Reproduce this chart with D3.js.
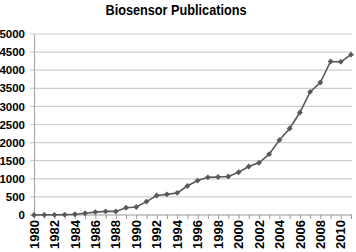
<!DOCTYPE html>
<html>
<head>
<meta charset="utf-8">
<script src="https://cdn.jsdelivr.net/npm/d3@7"></script>
<style>
  body { margin: 0; background: #fff; }
  text { font-family: "Liberation Sans Narrow", "Arial Narrow", "Liberation Sans", Arial, sans-serif; font-weight: bold; fill: #000; }
</style>
</head>
<body>
<svg id="chart"></svg>
<script>
const years = d3.range(1980, 2012);
const pubs = [0, 5, 5, 10, 20, 50, 80, 100, 100, 200, 220, 370, 540, 570, 610, 800,
  950, 1040, 1050, 1065, 1180, 1340, 1440, 1680, 2070, 2390, 2830, 3400, 3660, 4240, 4230, 4430];
const yTicks = [0, 500, 1000, 1500, 2000, 2500, 3000, 3500, 4000, 4500, 5000];
const xLabels = years.filter(y => y % 2 === 0);
const title = "Biosensor Publications";

const width = 356, height = 252;
const margin = { top: 34, right: 5, bottom: 37, left: 34 };

const svg = d3.select('#chart')
    .attr('width', width)
    .attr('height', height);

const x = d3.scalePoint()
    .domain(years)
    .range([margin.left, 351]);

const y = d3.scaleLinear()
    .domain([0, 5000])
    .range([height - margin.bottom, margin.top]);

svg.append('text')
    .attr('x', 176)
    .attr('y', 15)
    .attr('text-anchor', 'middle')
    .attr('textLength', 141)
    .attr('lengthAdjust', 'spacingAndGlyphs')
    .style('font-size', '14px')
    .text(title);

// gridlines
svg.append('g')
  .selectAll('line')
  .data(yTicks)
  .join('line')
    .attr('x1', margin.left - 4)
    .attr('x2', 352)
    .attr('y1', d => y(d))
    .attr('y2', d => y(d))
    .attr('stroke', d => d === 0 ? '#9a9a9a' : '#cfcfcf')
    .attr('stroke-width', 1.2);

// y axis
const yAxis = svg.append('g')
    .attr('transform', `translate(${margin.left}, 0)`)
    .call(d3.axisLeft(y).tickValues(yTicks).tickFormat(d3.format('d')).tickSize(0).tickPadding(9));
yAxis.select('.domain').attr('stroke', '#a8a8a8').attr('stroke-width', 1.2);
yAxis.selectAll('text').style('font-size', '11.5px').attr('font-family', null);

// x axis
const xAxis = svg.append('g')
    .attr('transform', `translate(0, ${y(0)})`)
    .call(d3.axisBottom(x).tickSize(4).tickFormat(''));
xAxis.select('.domain').remove();
xAxis.selectAll('.tick line').attr('stroke', '#9a9a9a');

svg.append('g')
  .selectAll('text')
  .data(xLabels)
  .join('text')
    .attr('transform', d => `translate(${x(d)}, ${y(0) + 5}) rotate(-90)`)
    .attr('text-anchor', 'end')
    .attr('dy', '0.36em')
    .style('font-size', '13px')
    .text(d => d);

// series
const line = d3.line()
    .x((d, i) => x(years[i]))
    .y(d => y(d));

svg.append('path')
    .datum(pubs)
    .attr('fill', 'none')
    .attr('stroke', '#595959')
    .attr('stroke-width', 1.6)
    .attr('d', line);

svg.append('g')
  .selectAll('path')
  .data(pubs)
  .join('path')
    .attr('transform', (d, i) => `translate(${x(years[i])}, ${y(d)})`)
    .attr('d', d3.symbol(d3.symbolDiamond2, 22))
    .attr('fill', '#595959');
</script>
</body>
</html>
